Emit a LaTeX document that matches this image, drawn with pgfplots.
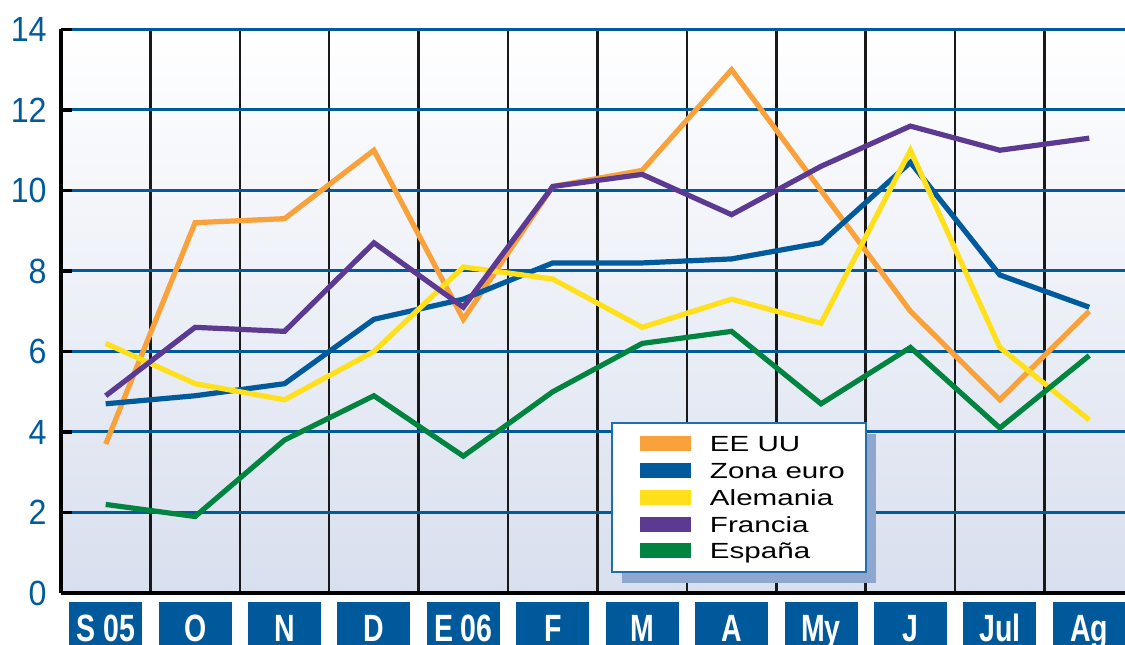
\documentclass[border=0pt]{standalone}
\usepackage{pgfplots}
\pgfplotsset{compat=1.18}
\usepackage{pgfplotstable}
\usepackage{fontspec}
\setmainfont{Liberation Sans}
\newfontfamily\catfont[FakeStretch=0.75]{Liberation Sans}
\newfontfamily\legfont[FakeStretch=1.35]{Liberation Sans}
\newfontfamily\tickfont[FakeStretch=0.92]{Liberation Sans}
\usetikzlibrary{shadows}

% the legend box shadow must not be repeated on the swatches inside it
\makeatletter
\tikzset{no preactions/.code={\let\tikz@preactions\pgfutil@empty}}
\makeatother

\definecolor{gridblue}{RGB}{0,90,156}
\definecolor{catblue}{RGB}{0,89,155}
\definecolor{eeuu}{RGB}{249,161,58}
\definecolor{zona}{RGB}{0,90,156}
\definecolor{alem}{RGB}{255,224,26}
\definecolor{fran}{RGB}{92,58,146}
\definecolor{esp}{RGB}{0,132,64}
\definecolor{legblue}{RGB}{31,110,175}
\definecolor{shadowc}{RGB}{143,167,206}
\definecolor{bgbot}{RGB}{216,223,238}

% Monthly series, Sept 2005 - Aug 2006
\pgfplotstableread{
x  eeuu zona alem fran esp
0  3.7  4.7  6.2  4.9  2.2
1  9.2  4.9  5.2  6.6  1.9
2  9.3  5.2  4.8  6.5  3.8
3  11.0 6.8  6.0  8.7  4.9
4  6.8  7.3  8.1  7.1  3.4
5  10.1 8.2  7.8  10.1 5.0
6  10.5 8.2  6.6  10.4 6.2
7  13.0 8.3  7.3  9.4  6.5
8  10.0 8.7  6.7  10.6 4.7
9  7.0  10.7 11.0 11.6 6.1
10 4.8  7.9  6.1  11.0 4.1
11 7.0  7.1  4.3  11.3 5.9
}\datatable

\begin{document}
\begin{tikzpicture}
\begin{axis}[
  scale only axis, width=532pt, height=281.75pt,
  xmin=-0.5, xmax=11.4, ymin=0, ymax=14,
  axis x line=bottom, axis y line=left,
  axis line style={-, black, line width=1.6pt},
  axis background/.style={top color=white, bottom color=bgbot},
  % vertical separators between months
  xtick={0,...,11},
  xticklabels={S 05,O,N,D,E 06,F,M,A,My,J,Jul,Ag},
  xtick style={draw=none},
  minor xtick={0.5,1.5,...,10.5},
  xminorgrids, minor grid style={black!90, line width=1.25pt},
  minor tick length=0pt,
  % horizontal rules
  ytick={0,2,...,14},
  yticklabels={0,2,4,6,8,10,12,14},
  ymajorgrids, major grid style={gridblue, line width=1.5pt},
  ytick style={black, line width=1.6pt},
  major tick length=5.5pt, tick align=inside,
  yticklabel style={font=\tickfont\fontsize{17.5}{20}\selectfont,
    text=gridblue, anchor=east, inner sep=0pt, xshift=-7pt},
  xticklabel style={font=\catfont\bfseries\fontsize{19}{20}\selectfont,
    text=white, fill=catblue, anchor=north, inner xsep=0pt, inner ysep=0pt,
    minimum width=36.5pt, text height=19.5pt, text depth=2pt, yshift=-4.5pt},
  legend style={
    at={(rel axis cs:0.5169,0.3035)}, anchor=north west,
    draw=legblue, line width=1pt, fill=white,
    inner xsep=10.5pt, inner ysep=3.7pt,
    font=\legfont\fontsize{10.95}{13}\selectfont,
    nodes={inner sep=0pt, text height=10.62pt, text depth=2.78pt, no preactions},
    row sep=0pt, column sep=5.5pt,
    drop shadow={shadow xshift=5pt, shadow yshift=-5.5pt, fill=shadowc, opacity=1},
  },
  legend cell align=left,
  legend image code/.code={
    \path[no preactions] (0pt,0pt);
    \draw[no preactions, #1, line width=7.5pt] (1.5pt,0pt) -- (27pt,0pt);
  },
  every axis plot/.append style={line width=2.6pt},
]
\addplot[eeuu] table[x=x, y=eeuu] {\datatable};
\addlegendentry{EE UU}
\addplot[zona] table[x=x, y=zona] {\datatable};
\addlegendentry{Zona euro}
\addplot[alem] table[x=x, y=alem] {\datatable};
\addlegendentry{Alemania}
\addplot[fran] table[x=x, y=fran] {\datatable};
\addlegendentry{Francia}
\addplot[esp] table[x=x, y=esp] {\datatable};
\addlegendentry{España}
\coordinate (sw) at (rel axis cs:0,0);
\coordinate (ne) at (rel axis cs:1,1);
\end{axis}
\pgfresetboundingbox
\path ([shift={(-30.5pt,-26pt)}]sw) rectangle ([shift={(0pt,14.75pt)}]ne);
\end{tikzpicture}
\end{document}
